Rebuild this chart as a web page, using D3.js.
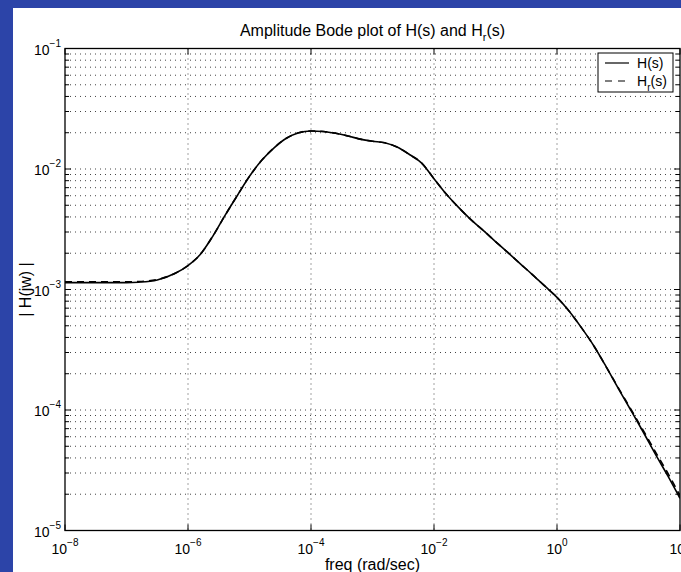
<!DOCTYPE html>
<html>
<head>
<meta charset="utf-8">
<script src="https://cdn.jsdelivr.net/npm/d3@7"></script>
<style>
html,body{margin:0;padding:0;background:#2c44a8;overflow:hidden;}
svg{display:block;}
text{font-family:"Liberation Sans",Arial,Helvetica,sans-serif;fill:#000;}
</style>
</head>
<body>
<svg id="chart" width="681" height="572"></svg>
<script>
// ---- data ----
const freq = [1e-8, 1e-7, 1.58e-7, 3.16e-7, 6.31e-7, 1e-6, 1.58e-6, 2.51e-6, 3.98e-6, 6.31e-6,
  1e-5, 1.58e-5, 2.51e-5, 3.98e-5, 6.31e-5, 1e-4, 1.58e-4, 2.51e-4, 3.98e-4, 6.31e-4,
  1e-3, 1.58e-3, 2.51e-3, 3.98e-3, 6.31e-3, 1e-2, 1.58e-2, 2.51e-2, 3.98e-2, 6.31e-2,
  1e-1, 0.158, 0.251, 0.398, 0.631, 1, 1.58, 2.51, 3.98, 6.31,
  10, 15.8, 25.1, 39.8, 63.1, 100];
const magH = [1.14e-3, 1.14e-3, 1.15e-3, 1.2e-3, 1.37e-3, 1.58e-3, 1.95e-3, 2.75e-3, 4.1e-3, 6.0e-3,
  8.7e-3, 0.0118, 0.0150, 0.0180, 0.0200, 0.0207, 0.0205, 0.0198, 0.0188, 0.0177,
  0.0170, 0.0165, 0.0152, 0.0132, 0.0112, 0.0083, 0.0062, 0.0048, 0.0038, 0.0031,
  0.0025, 0.00203, 0.00164, 0.00133, 0.00107, 0.00086, 0.00066, 0.00048, 0.00034, 0.000228,
  1.5e-4, 1.0e-4, 6.6e-5, 4.3e-5, 2.85e-5, 1.85e-5];
const magHr = [1.16e-3, 1.16e-3, 1.165e-3, 1.21e-3, 1.37e-3, 1.58e-3, 1.95e-3, 2.75e-3, 4.1e-3, 6.0e-3,
  8.7e-3, 0.0118, 0.0150, 0.0180, 0.0200, 0.0207, 0.0205, 0.0198, 0.0188, 0.0177,
  0.0170, 0.0165, 0.0152, 0.0132, 0.0112, 0.0083, 0.0062, 0.0048, 0.0038, 0.0031,
  0.0025, 0.00203, 0.00164, 0.00133, 0.00107, 0.00086, 0.00066, 0.00048, 0.00034, 0.000228,
  1.52e-4, 1.02e-4, 6.8e-5, 4.5e-5, 3.0e-5, 1.95e-5];
const xTickExp = [-8, -6, -4, -2, 0, 2];
const yTickExp = [-5, -4, -3, -2, -1];
const titleText = ["Amplitude Bode plot of H(s) and H", "r", "(s)"];
const xLabelText = "freq (rad/sec)";
const yLabelText = "| H(jw) |";
const legendLabels = [["H", "", "(s)"], ["H", "r", "(s)"]];

// ---- layout ----
const svg = d3.select("#chart");
const L = 65, R = 680, T = 48.5, B = 530.5;
svg.append("rect").attr("x", 13).attr("y", 8).attr("width", 668).attr("height", 564).attr("fill", "#fff");

const x = d3.scaleLog().domain([1e-8, 1e2]).range([L, R]);
const y = d3.scaleLog().domain([1e-5, 1e-1]).range([B, T]);

// grid
const g = svg.append("g");
const minorY = [];
for (let e = -5; e < -1; e++) for (let m = 1; m < 10; m++) minorY.push(m * Math.pow(10, e));
minorY.push(1e-1);
g.selectAll(".hg").data(minorY.filter(v => v > 1e-5 && v < 1e-1)).enter().append("line")
  .attr("x1", L).attr("x2", R).attr("y1", d => y(d)).attr("y2", d => y(d))
  .attr("stroke", "#444").attr("stroke-width", 1).attr("stroke-dasharray", "1,4");
g.selectAll(".vg").data(xTickExp.slice(1, -1)).enter().append("line")
  .attr("x1", d => x(Math.pow(10, d))).attr("x2", d => x(Math.pow(10, d)))
  .attr("y1", T).attr("y2", B)
  .attr("stroke", "#444").attr("stroke-width", 1).attr("stroke-dasharray", "1,4");

// ticks (inward, all sides)
const tk = svg.append("g").attr("stroke", "#000").attr("stroke-width", 1);
minorY.forEach(v => {
  const major = Math.abs(Math.log10(v) - Math.round(Math.log10(v))) < 1e-9;
  const len = major ? 6 : 4;
  const yy = y(v);
  tk.append("line").attr("x1", L).attr("x2", L + len).attr("y1", yy).attr("y2", yy);
  tk.append("line").attr("x1", R).attr("x2", R - len).attr("y1", yy).attr("y2", yy);
});
xTickExp.forEach(e => {
  const xx = x(Math.pow(10, e));
  tk.append("line").attr("x1", xx).attr("x2", xx).attr("y1", B).attr("y2", B - 6);
  tk.append("line").attr("x1", xx).attr("x2", xx).attr("y1", T).attr("y2", T + 6);
});

// curves
const line = d3.line().x(d => x(d[0])).y(d => y(d[1])).curve(d3.curveMonotoneX);
const clip = svg.append("clipPath").attr("id", "clip").append("rect")
  .attr("x", L).attr("y", T).attr("width", R - L).attr("height", B - T);
svg.append("path").datum(freq.map((f, i) => [f, magHr[i]]))
  .attr("clip-path", "url(#clip)")
  .attr("d", line).attr("fill", "none").attr("stroke", "#000").attr("stroke-width", 1.6)
  .attr("stroke-dasharray", "7,5");
svg.append("path").datum(freq.map((f, i) => [f, magH[i]]))
  .attr("clip-path", "url(#clip)")
  .attr("d", line).attr("fill", "none").attr("stroke", "#000").attr("stroke-width", 1.6);

// axes box
svg.append("rect").attr("x", L).attr("y", T).attr("width", R - L).attr("height", B - T)
  .attr("fill", "none").attr("stroke", "#000").attr("stroke-width", 1.3);

// tick labels
const fs = 14, es = 10;
xTickExp.forEach(e => {
  const t = svg.append("text").attr("x", x(Math.pow(10, e))).attr("y", 554)
    .attr("text-anchor", "middle").attr("font-size", fs);
  t.append("tspan").text("10");
  t.append("tspan").attr("font-size", es).attr("dy", -8).text(e < 0 ? "\u2212" + (-e) : "" + e);
});
yTickExp.forEach(e => {
  const t = svg.append("text").attr("x", 61).attr("y", y(Math.pow(10, e)) + 6)
    .attr("text-anchor", "end").attr("font-size", fs);
  t.append("tspan").text("10");
  t.append("tspan").attr("font-size", es).attr("dy", -8).text("\u2212" + (-e));
});

// title
const tt = svg.append("text").attr("x", (L + R) / 2).attr("y", 36)
  .attr("text-anchor", "middle").attr("font-size", 16);
tt.append("tspan").text(titleText[0]);
tt.append("tspan").attr("font-size", 11).attr("dy", 5).text(titleText[1]);
tt.append("tspan").attr("dy", -5).text(titleText[2]);

// axis labels
svg.append("text").attr("x", (L + R) / 2).attr("y", 570).attr("text-anchor", "middle")
  .attr("font-size", 16).text(xLabelText);
svg.append("text").attr("transform", `translate(31,${(T + B) / 2}) rotate(-90)`)
  .attr("text-anchor", "middle").attr("font-size", 16).text(yLabelText);

// legend
const lg = svg.append("g");
lg.append("rect").attr("x", 598).attr("y", 53).attr("width", 75).attr("height", 39)
  .attr("fill", "#fff").attr("stroke", "#000").attr("stroke-width", 1);
const ly = [63, 81];
legendLabels.forEach((lab, i) => {
  lg.append("line").attr("x1", 605).attr("x2", 629).attr("y1", ly[i]).attr("y2", ly[i])
    .attr("stroke", "#000").attr("stroke-width", 1.2)
    .attr("stroke-dasharray", i === 1 ? "7,6" : null);
  const t = lg.append("text").attr("x", 637).attr("y", ly[i] + 5).attr("font-size", 14);
  t.append("tspan").text(lab[0]);
  if (lab[1]) {
    t.append("tspan").attr("font-size", 10).attr("dy", 5).text(lab[1]);
    t.append("tspan").attr("dy", -5).text(lab[2]);
  } else t.append("tspan").text(lab[2]);
});
</script>
</body>
</html>
